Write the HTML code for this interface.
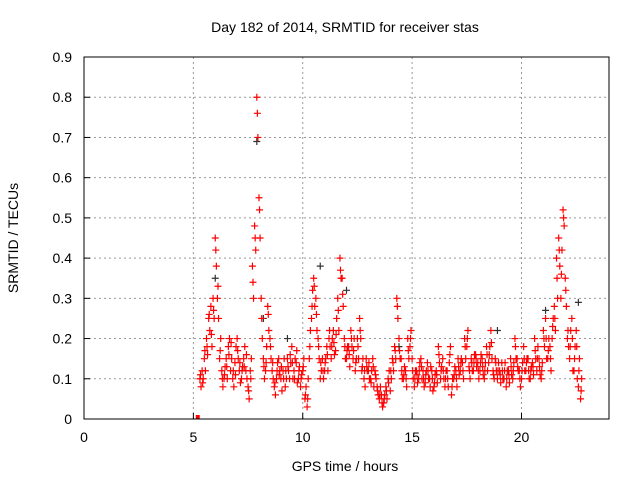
<!DOCTYPE html>
<html><head><meta charset="utf-8"><style>
body{margin:0;background:#fff}
svg text{font-family:"Liberation Sans",sans-serif;font-size:14px;fill:#000}
</style></head><body>
<svg id="chart" width="640" height="480">
<text x="345" y="32" text-anchor="middle">Day 182 of 2014, SRMTID for receiver stas</text>
<text transform="translate(18,238) rotate(-90)" text-anchor="middle">SRMTID / TECUs</text>
<text x="345" y="471" text-anchor="middle">GPS time / hours</text>
<g id="grid"></g>
<g id="ticks"></g>
<g id="marks"></g>
<rect x="84" y="57" width="525" height="362" fill="none" stroke="#000" stroke-width="1"/>
</svg>
<script>
const xTicks=[0,5,10,15,20];
const yTicks=[0,0.1,0.2,0.3,0.4,0.5,0.6,0.7,0.8,0.9];
const yTickLabels=["0","0.1","0.2","0.3","0.4","0.5","0.6","0.7","0.8","0.9"];
const startHour=5.3;
const seriesA=[0.10,0.12,0.15,0.20,0.25,0.28,0.30,
0.45,0.30,0.15,0.12,0.10,
0.15,0.18,0.12,0.10,0.14,0.20,0.12,0.10,0.15,0.12,
0.08,0.12,0.38,0.48,0.80,0.55,0.30,0.15,0.12,
0.28,0.20,0.12,0.08,0.10,0.15,0.10,
0.12,0.08,0.15,0.10,0.18,0.12,0.14,0.10,0.08,0.12,
0.05,0.03,0.15,0.25,0.35,0.30,0.20,0.10,0.15,
0.12,0.18,0.20,0.15,0.22,0.17,0.30,0.40,0.35,0.20,0.15,
0.18,0.22,0.15,0.12,0.20,0.25,0.12,0.10,0.15,0.12,
0.10,0.15,0.12,0.08,0.05,0.06,0.04,0.08,0.10,0.07,
0.15,0.18,0.30,0.20,0.15,0.10,0.12,0.20,0.18,0.15,
0.08,0.12,0.10,0.15,0.12,0.09,0.14,0.10,0.12,0.08,
0.12,0.18,0.10,0.15,0.08,0.12,0.14,0.06,0.10,0.12,
0.15,0.12,0.14,0.20,0.18,0.13,0.15,0.12,0.16,0.14,
0.12,0.15,0.10,0.18,0.14,0.22,0.12,0.15,0.10,0.12,
0.14,0.10,0.08,0.12,0.15,0.10,0.20,0.15,0.12,0.10,
0.18,0.12,0.15,0.10,0.14,0.20,0.12,0.15,0.10,0.22,
0.25,0.15,0.18,0.20,0.28,0.40,0.45,0.30,0.52,0.35,
0.20,0.15,0.25,0.12,0.22,0.08,0.05];
const seriesB=[0.08,0.10,0.12,0.16,0.22,0.18,0.25,
0.38,0.25,0.20,0.08,0.13,
0.10,0.20,0.15,0.08,0.18,0.15,0.09,0.13,0.18,0.10,
0.05,0.15,0.30,0.42,0.70,0.45,0.20,0.10,0.18,
0.22,0.15,0.10,0.06,0.14,0.12,0.07,
0.15,0.10,0.12,0.14,0.10,0.15,0.09,0.13,0.11,0.15,
0.08,0.10,0.22,0.32,0.28,0.22,0.15,0.12,0.10,
0.15,0.12,0.18,0.20,0.16,0.25,0.22,0.35,0.28,0.15,0.18,
0.13,0.18,0.20,0.15,0.15,0.20,0.15,0.08,0.12,0.10,
0.12,0.08,0.10,0.06,0.08,0.03,0.06,0.05,0.12,0.10,
0.12,0.15,0.25,0.15,0.10,0.13,0.08,0.15,0.22,0.10,
0.12,0.09,0.14,0.10,0.08,0.12,0.10,0.13,0.07,0.11,
0.09,0.14,0.13,0.10,0.12,0.08,0.18,0.10,0.13,0.08,
0.11,0.15,0.10,0.15,0.22,0.10,0.12,0.16,0.13,0.10,
0.16,0.11,0.14,0.12,0.18,0.15,0.10,0.12,0.14,0.09,
0.10,0.14,0.12,0.09,0.11,0.14,0.15,0.12,0.08,0.14,
0.12,0.15,0.10,0.13,0.11,0.15,0.18,0.11,0.14,0.18,
0.15,0.20,0.12,0.25,0.22,0.30,0.38,0.42,0.48,0.28,
0.18,0.22,0.12,0.18,0.10,0.15,0.10];
const seriesC=[0.11,0.09,0.17,0.18,0.26,0.21,0.27,
0.42,0.33,0.17,0.10,0.11,
0.13,0.16,0.19,0.12,0.11,0.17,0.14,0.12,0.13,0.16,
0.07,0.10,0.34,0.45,0.76,0.52,0.25,0.13,0.14,
0.26,0.18,0.14,0.09,0.12,0.11,0.13,
0.10,0.12,0.13,0.16,0.14,0.10,0.17,0.12,0.10,0.13,
0.06,0.05,0.18,0.28,0.33,0.26,0.18,0.14,0.12,
0.14,0.16,0.22,0.18,0.19,0.21,0.27,0.37,0.31,0.18,0.17,
0.16,0.20,0.17,0.14,0.18,0.22,0.13,0.12,0.13,0.14,
0.09,0.13,0.11,0.07,0.06,0.04,0.05,0.07,0.09,0.12,
0.14,0.17,0.28,0.17,0.12,0.11,0.10,0.17,0.20,0.12,
0.10,0.11,0.12,0.13,0.10,0.11,0.12,0.08,0.10,0.09,
0.11,0.16,0.12,0.12,0.10,0.10,0.16,0.08,0.11,0.10,
0.13,0.14,0.12,0.18,0.20,0.12,0.14,0.14,0.15,0.12,
0.14,0.13,0.12,0.16,0.16,0.19,0.11,0.14,0.12,0.11,
0.12,0.12,0.10,0.11,0.13,0.12,0.18,0.13,0.10,0.12,
0.15,0.14,0.12,0.12,0.13,0.17,0.15,0.13,0.12,0.20,
0.20,0.17,0.15,0.23,0.25,0.35,0.42,0.36,0.50,0.32,
0.22,0.18,0.20,0.15,0.18,0.12,0.07];
const blackHours=[6.0,7.9,8.2,10.8,12.0,18.9,21.1,22.6,9.3,14.4];
const blackValues=[0.35,0.69,0.25,0.38,0.32,0.22,0.27,0.29,0.20,0.18];
const x=h=>84+h*(525/24);
const y=v=>419-v*(362/0.9);
const NS="http://www.w3.org/2000/svg";
const grid=document.getElementById('grid'),ticks=document.getElementById('ticks'),marks=document.getElementById('marks');
function mk(tag,attrs,parent){const e=document.createElementNS(NS,tag);for(const k in attrs)e.setAttribute(k,attrs[k]);parent.appendChild(e);return e;}
yTicks.forEach((v,i)=>{
  if(i>0&&i<yTicks.length-1){const g=mk('line',{x1:84,x2:609,y1:y(v),y2:y(v),stroke:'#999','stroke-dasharray':'2,3'},grid);
  
  }
  const t=mk('text',{x:72,y:y(v)+5,'text-anchor':'end'},ticks);t.textContent=yTickLabels[i];
  
  
  mk('line',{x1:84,x2:90,y1:y(v),y2:y(v),stroke:'#000'},ticks);
});
xTicks.forEach(h=>{
  if(h>0){const g=mk('line',{x1:x(h),x2:x(h),y1:57,y2:419,stroke:'#999','stroke-dasharray':'2,3'},grid);
  
  }
  mk('line',{x1:x(h),x2:x(h),y1:413,y2:419,stroke:'#000'},ticks);
  const t=mk('text',{x:x(h),y:442,'text-anchor':'middle'},ticks);t.textContent=String(h);
  
  
});
function plus(h,v,c){const px=x(h),py=y(v);
  const p=mk('path',{d:`M${px-3.5},${py}H${px+3.5}M${px},${py-3.5}V${py+3.5}`,stroke:c,'stroke-width':1.2,fill:'none'},marks);
  
  }
blackHours.forEach((h,i)=>plus(h,blackValues[i],'#333'));
seriesA.forEach((v,i)=>plus(startHour+i*0.1,v,'#f00'));
seriesB.forEach((v,i)=>plus(startHour+i*0.1+0.05,v,'#f00'));
seriesC.forEach((v,i)=>plus(startHour+i*0.1+0.025,v,'#f00'));
const z=mk('rect',{x:x(5.2)-2,y:y(0)-4,width:4,height:4,fill:'#f00'},marks);


</script>
</body></html>
